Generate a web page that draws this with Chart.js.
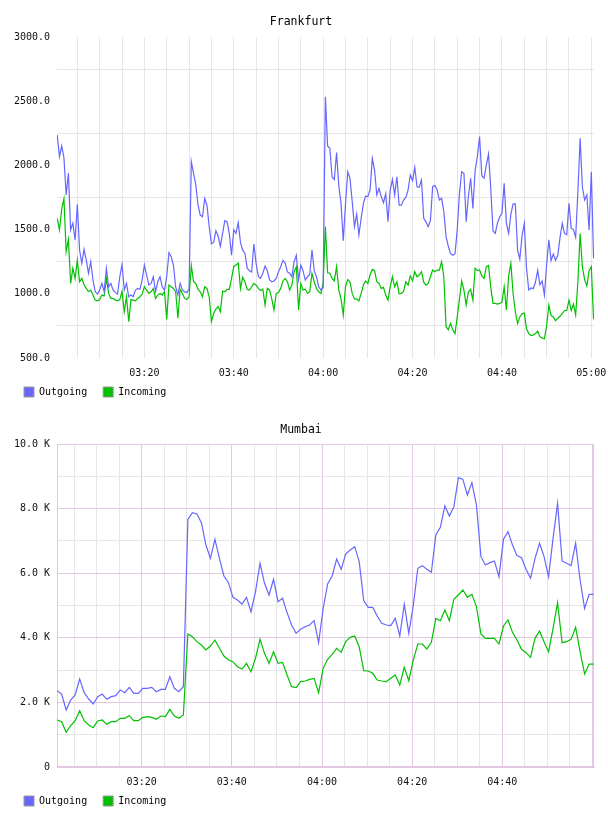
<!DOCTYPE html>
<html>
<head>
<meta charset="utf-8">
<title>Frankfurt / Mumbai traffic</title>
<script src="https://cdn.jsdelivr.net/npm/chart.js@4.4.0/dist/chart.umd.min.js"></script>
<style>
  html, body { margin: 0; padding: 0; background: #fff; }
  .box { width: 608px; height: 408px; }
</style>
</head>
<body>
<div class="box"><canvas id="fra" width="608" height="408"></canvas></div>
<div class="box"><canvas id="mum" width="608" height="408"></canvas></div>
<script>
// x values are minutes after 03:00

// Frankfurt: a sample every 30 s starting 03:00:30
const fraStart = 0.5;
const fraStep = 0.5;
const fraOutgoing = [
  2236, 2068, 2151, 2060, 1769, 1938, 1497, 1550, 1419, 1697,
  1341, 1237, 1346, 1263, 1159, 1250, 1107, 1016, 998, 1029,
  1081, 1016, 1198, 1055, 1081, 1029, 1009, 998, 1133, 1229,
  1029, 1081, 977, 990, 977, 1029, 1042, 1035, 1107, 1224,
  1146, 1068, 1081, 1133, 1016, 1094, 1133, 1055, 1029, 1133,
  1320, 1289, 1224, 1055, 990, 1081, 1029, 1016, 1009, 1042,
  2030, 1938, 1850, 1692, 1613, 1600, 1743, 1690, 1523, 1390,
  1400, 1490, 1450, 1370, 1470, 1570, 1560, 1470, 1300, 1500,
  1470, 1554, 1400, 1340, 1315, 1200, 1180, 1170, 1388, 1237,
  1133, 1120, 1160, 1216, 1180, 1110, 1094, 1100, 1120, 1170,
  1211, 1260, 1240, 1170, 1160, 1133, 1250, 1300, 1110, 1224,
  1180, 1107, 1133, 1150, 1341, 1180, 1133, 1055, 1029, 1050,
  2535, 2150, 2133, 1910, 1890, 2100, 1840, 1704, 1414, 1700,
  1951, 1899, 1720, 1523, 1620, 1460, 1587, 1704, 1760, 1757,
  1810, 2055, 1964, 1770, 1820, 1757, 1710, 1780, 1562, 1808,
  1890, 1770, 1912, 1690, 1690, 1730, 1750, 1808, 1925, 1880,
  1985, 1834, 1830, 1886, 1588, 1560, 1523, 1570, 1834, 1845,
  1808, 1730, 1743, 1640, 1445, 1370, 1315, 1300, 1310, 1500,
  1782, 1950, 1938, 1562, 1760, 1900, 1665, 1960, 2068, 2224,
  1920, 1900, 2000, 2090, 1820, 1490, 1470, 1550, 1600, 1625,
  1860, 1550, 1470, 1620, 1700, 1700, 1340, 1270, 1450, 1549,
  1200, 1029, 1045, 1040, 1090, 1185, 1070, 1100, 990, 1230,
  1420, 1260, 1310, 1260, 1300, 1440, 1549, 1470, 1460, 1704,
  1510, 1500, 1440, 1800, 2211, 1830, 1730, 1769, 1497, 1951,
  1276
];
const fraIncoming = [
  1588, 1497, 1660, 1740, 1330, 1424, 1081, 1198, 1120, 1263,
  1094, 1120, 1070, 1042, 1016, 1029, 990, 951, 945, 955,
  990, 983, 1120, 1003, 964, 964, 951, 945, 955, 1020,
  861, 977, 783, 955, 951, 945, 964, 977, 998, 1055,
  1029, 1003, 1016, 1042, 964, 990, 1003, 990, 1016, 801,
  1068, 1055, 1042, 1016, 809, 1035, 1003, 964, 955, 977,
  1220, 1094, 1081, 1035, 1016, 977, 1055, 1042, 977, 783,
  848, 880, 900, 861, 1020, 1016, 1035, 1035, 1120, 1211,
  1224, 1240, 1040, 1130, 1094, 1035, 1029, 1055, 1081, 1068,
  1042, 1025, 1035, 913, 1042, 1030, 960, 874, 1003, 1010,
  1042, 1100, 1120, 1094, 1029, 1068, 1172, 1211, 874, 1081,
  1029, 1035, 1003, 1016, 1159, 1094, 1042, 1016, 1003, 1081,
  1523, 1164, 1160, 1120, 1100, 1211, 1029, 960, 835, 1055,
  1110, 1094, 1003, 960, 960, 945, 1003, 1068, 1100, 1081,
  1150, 1190, 1180, 1094, 1081, 1042, 1050, 990, 951, 1055,
  1133, 1055, 1094, 1000, 1003, 1020, 1094, 1068, 1140, 1100,
  1172, 1133, 1146, 1172, 1090, 1068, 1081, 1133, 1185, 1172,
  1185, 1185, 1250, 1133, 744, 720, 770, 720, 690, 820,
  960, 1100, 1029, 913, 1016, 1035, 951, 1200, 1180, 1185,
  1140, 1120, 1211, 1220, 1050, 925, 925, 920, 925, 935,
  1055, 874, 1140, 1237, 1000, 860, 770, 820, 845, 850,
  730, 690, 675, 680, 690, 710, 666, 655, 650, 750,
  913, 830, 820, 790, 810, 825, 845, 870, 870, 950,
  870, 920, 835, 1100, 1470, 1210, 1110, 1060, 1180, 1211,
  801
];

// Mumbai: a sample every minute
const mumStart = 1.25;
const mumStep = 1;
const mumOutgoing = [
  2363, 2260, 1764, 2074, 2229, 2724, 2301, 2105, 1950, 2177,
  2260, 2095, 2177, 2208, 2384, 2301, 2466, 2280, 2280, 2435,
  2435, 2466, 2332, 2404, 2404, 2796, 2435, 2332, 2487, 7668,
  7875, 7833, 7565, 6873, 6461, 7049, 6461, 5914, 5707, 5253,
  5171, 5047, 5253, 4800, 5429, 6306, 5687, 5325, 5811, 5119,
  5222, 4780, 4396, 4138, 4262, 4344, 4396, 4530, 3849, 4900,
  5666, 5914, 6440, 6120, 6595, 6719, 6822, 6358, 5150, 4943,
  4940, 4675, 4448, 4396, 4375, 4602, 4055, 5040, 4138, 5000,
  6151, 6234, 6120, 6027, 7183, 7420, 8081, 7771, 8060, 8958,
  8906, 8421, 8803, 8112, 6512, 6254, 6327, 6378, 5893, 7049,
  7286, 6873, 6543, 6481, 6120, 5841, 6461, 6925, 6512, 5893,
  7080, 8163, 6378, 6306, 6234, 6925, 5790, 4912, 5346, 5346
];
const mumIncoming = [
  1455, 1403, 1073, 1279, 1434, 1744, 1434, 1300, 1217, 1424,
  1455, 1321, 1403, 1403, 1506, 1506, 1589, 1434, 1434, 1537,
  1558, 1537, 1475, 1578, 1558, 1785, 1578, 1506, 1609, 4117,
  4035, 3880, 3777, 3622, 3746, 3932, 3674, 3436, 3312, 3261,
  3106, 3034, 3209, 2951, 3364, 3952, 3519, 3209, 3570, 3209,
  3240, 2848, 2487, 2456, 2642, 2662, 2714, 2745, 2301, 3054,
  3333, 3488, 3674, 3550, 3880, 4014, 4055, 3725, 2982, 2972,
  2900, 2693, 2662, 2642, 2745, 2848, 2538, 3085, 2673, 3312,
  3808, 3808, 3653, 3859, 4602, 4530, 4860, 4530, 5202, 5325,
  5480, 5253, 5346, 4964, 4117, 3983, 3983, 3983, 3808, 4365,
  4551, 4169, 3932, 3643, 3540, 3395, 3983, 4210, 3880, 3570,
  4293, 5087, 3849, 3880, 3952, 4324, 3570, 2879, 3188, 3188
];

const OUT_COLOR = '#6666ff';
const IN_COLOR = '#00c000';
const GRID = '#e6e6e6';
const GRID_MAJOR = '#e2c8e2';

Chart.defaults.font.family = '"DejaVu Sans Mono", monospace';
Chart.defaults.font.size = 10;
Chart.defaults.color = '#111';

const hhmm = (m) => {
  const h = 3 + Math.floor(m / 60);
  return String(h).padStart(2, '0') + ':' + String(m % 60).padStart(2, '0');
};

// outline of the plot area (only used for Mumbai)
const plotFrame = {
  id: 'plotFrame',
  beforeDatasetsDraw(chart, args, opts) {
    if (!opts.color) return;
    const { ctx, chartArea: a } = chart;
    const l = Math.round(a.left), t = Math.round(a.top);
    const r = Math.round(a.right), b = Math.round(a.bottom);
    ctx.save();
    ctx.strokeStyle = opts.color;
    ctx.lineWidth = 1;
    ctx.strokeRect(l + 0.5, t + 0.5, r - l - 1, b - t - 1);
    ctx.restore();
  }
};

// the x axis box is kept short so the legend sits close; let its labels draw past it
const tickRoom = {
  id: 'tickRoom',
  afterLayout(chart) {
    const x = chart.scales.x;
    x.bottom = x.top + 30;
  }
};

const buildChart = (id, cfg) => {
  const points = (vals) => vals.map((v, i) => ({ x: cfg.start + i * cfg.step, y: v }));
  return new Chart(document.getElementById(id), {
    type: 'line',
    data: {
      datasets: [
        { label: 'Outgoing', data: points(cfg.outgoing), borderColor: OUT_COLOR, backgroundColor: OUT_COLOR },
        { label: 'Incoming', data: points(cfg.incoming), borderColor: IN_COLOR, backgroundColor: IN_COLOR }
      ]
    },
    options: {
      responsive: false,
      animation: false,
      events: [],
      layout: { padding: { left: 8, right: 14, top: 0, bottom: cfg.padBottom } },
      elements: {
        point: { radius: 0 },
        line: { borderWidth: 1.2, tension: 0 }
      },
      plugins: {
        title: {
          display: true,
          text: cfg.title,
          color: '#000',
          font: { size: 11.5, weight: 'normal' },
          padding: { top: 15, bottom: cfg.titleGap }
        },
        legend: {
          position: 'bottom',
          align: 'start',
          labels: {
            boxWidth: 10,
            boxHeight: 10,
            padding: 16,
            color: '#000',
            generateLabels: (chart) => Chart.defaults.plugins.legend.labels.generateLabels(chart)
              .map(item => ({ ...item, strokeStyle: '#999', lineWidth: 1 }))
          }
        },
        tooltip: { enabled: false },
        plotFrame: { color: cfg.frame }
      },
      scales: {
        x: {
          type: 'linear',
          min: cfg.xMin,
          max: cfg.xMax,
          afterFit: (s) => { s.height = 13; },
          border: { display: !!cfg.frame, color: cfg.frame || GRID },
          grid: {
            drawTicks: true,
            tickLength: 9,
            tickColor: 'rgba(0,0,0,0)',
            color: (c) => (cfg.frame && Math.round(c.tick.value) % 20 === 0) ? GRID_MAJOR : GRID
          },
          ticks: {
            stepSize: 5,
            includeBounds: false,
            autoSkip: false,
            maxRotation: 0,
            padding: 0,
            callback: (v) => {
              const m = Math.round(v);
              return (m % 20 === 0 && m <= cfg.lastLabel) ? hhmm(m) : '';
            }
          }
        },
        y: {
          min: cfg.yMin,
          max: cfg.yMax,
          afterFit: (s) => { s.width = 49; },
          border: { display: !!cfg.frame, color: cfg.frame || GRID },
          grid: {
            drawTicks: false,
            color: (c) => cfg.yGrid(c.tick.value)
          },
          ticks: {
            stepSize: cfg.yStep,
            autoSkip: false,
            padding: 7,
            callback: cfg.yLabel
          }
        }
      }
    },
    plugins: [plotFrame, tickRoom]
  });
};

buildChart('fra', {
  title: 'Frankfurt',
  start: fraStart, step: fraStep,
  outgoing: fraOutgoing, incoming: fraIncoming,
  xMin: 0.45, xMax: 120.6, lastLabel: 120,
  yMin: 500, yMax: 3000, yStep: 250,
  yLabel: (v) => v % 500 === 0 ? v.toFixed(1) : '',
  yGrid: (v) => v % 500 === 0 ? 'rgba(0,0,0,0)' : GRID,
  frame: null,
  titleGap: 8.2, padBottom: 1
});

buildChart('mum', {
  title: 'Mumbai',
  start: mumStart, step: mumStep,
  outgoing: mumOutgoing, incoming: mumIncoming,
  xMin: 1.22, xMax: 120.33, lastLabel: 100,
  yMin: 0, yMax: 10000, yStep: 1000,
  yLabel: (v) => v % 2000 !== 0 ? '' : (v === 0 ? '0' : (v / 1000).toFixed(1) + ' K'),
  yGrid: (v) => v % 2000 === 0 ? GRID_MAJOR : GRID,
  frame: GRID_MAJOR,
  titleGap: 7.2, padBottom: 0
});
</script>
</body>
</html>
